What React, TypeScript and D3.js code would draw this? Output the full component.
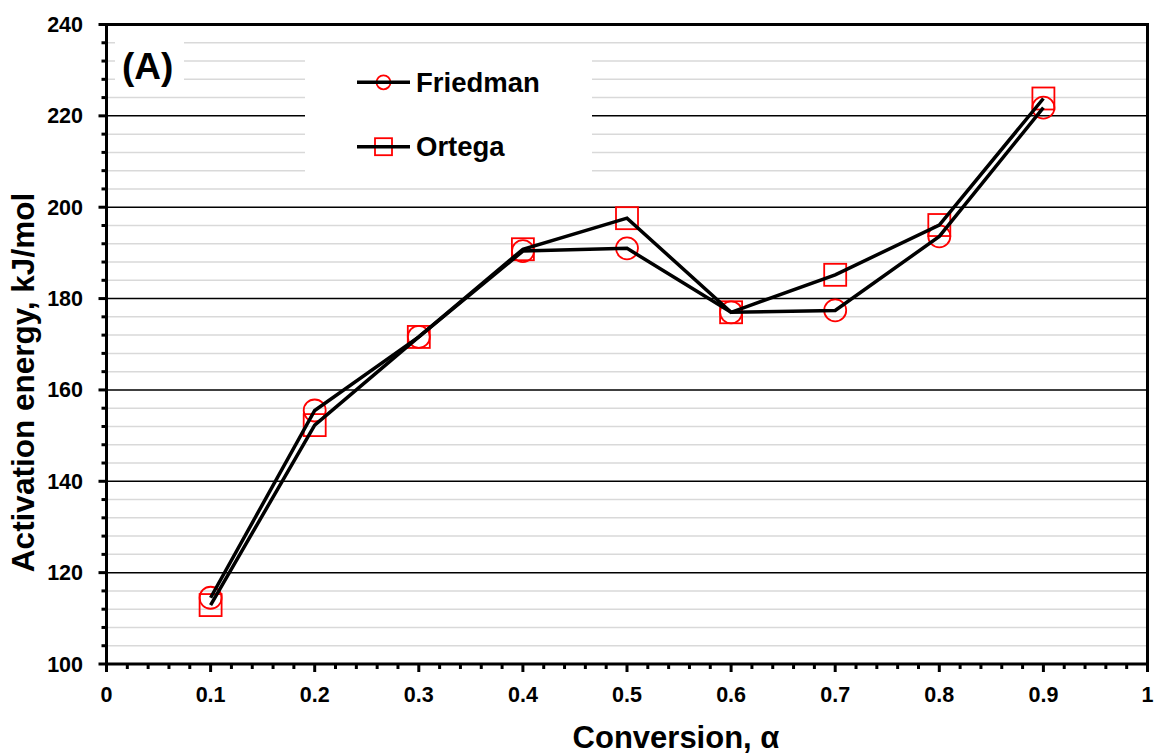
import React from "react";
import * as d3 from "d3";

const conversion = [0.1, 0.2, 0.3, 0.4, 0.5, 0.6, 0.7, 0.8, 0.9];
const friedman = [114.5, 155.5, 171.6, 190.4, 191.0, 177.0, 177.4, 193.6, 221.8];
const ortega = [112.9, 152.3, 171.6, 190.8, 197.6, 177.0, 185.2, 196.1, 223.8];
const xTicks = [0, 0.1, 0.2, 0.3, 0.4, 0.5, 0.6, 0.7, 0.8, 0.9, 1];
const yTicks = [100, 120, 140, 160, 180, 200, 220, 240];
const seriesNames = ["Friedman", "Ortega"];

const FONT = "'Liberation Sans', Arial, Helvetica, sans-serif";

export default function App() {
  const W = 1156;
  const H = 756;
  const x = d3.scaleLinear().domain([0, 1]).range([106.5, 1147.5]);
  const y = d3.scaleLinear().domain([100, 240]).range([664, 24.5]);

  const minorY = d3.range(100, 240.001, 4);
  const minorX = d3.range(0, 1.0001, 0.02);

  const line = d3
    .line<number>()
    .x((_, i) => x(conversion[i]))
    .y((d) => y(d));

  const x0 = x(0), x1 = x(1), y0 = y(100), y1 = y(240);

  return (
    <div style={{ position: "absolute", left: 0, top: 0, width: W, height: H }}>
      <svg width={W} height={H} style={{ display: "block" }} fontFamily={FONT}>
        <rect x={0} y={0} width={W} height={H} fill="#fff" />
        {/* minor gridlines */}
        {minorY.filter((v) => v % 20 !== 0).map((v) => (
          <line key={"mg" + v} x1={x0} x2={x1} y1={y(v)} y2={y(v)} stroke="#d9d9d9" strokeWidth={1.5} />
        ))}
        {/* major gridlines */}
        {yTicks.slice(1, -1).map((v) => (
          <line key={"Mg" + v} x1={x0} x2={x1} y1={y(v)} y2={y(v)} stroke="#000" strokeWidth={1.5} />
        ))}
        {/* (A) box */}
        <rect x={115} y={35} width={69} height={56} fill="#fff" />
        <text x={122} y={79} fontSize={37} fontWeight="bold" fill="#000">(A)</text>
        {/* legend box */}
        <rect x={305} y={50} width={287} height={136} fill="#fff" />
        {seriesNames.map((name, i) => {
          const ly = i === 0 ? 82.3 : 146.7;
          return (
            <g key={name}>
              {i === 0 ? (
                <circle cx={383.5} cy={ly} r={7} fill="none" stroke="#ff0000" strokeWidth={1.8} />
              ) : (
                <rect x={375} y={ly - 8.5} width={17} height={17} fill="none" stroke="#ff0000" strokeWidth={1.8} />
              )}
              <line x1={357} x2={410} y1={ly} y2={ly} stroke="#000" strokeWidth={3.5} />
              <text x={416} y={ly + 9.5} fontSize={27.5} fontWeight="bold" fill="#000">{name}</text>
            </g>
          );
        })}
        {/* markers */}
        {friedman.map((v, i) => (
          <circle key={"fc" + i} cx={x(conversion[i])} cy={y(v)} r={11} fill="none" stroke="#ff0000" strokeWidth={1.8} />
        ))}
        {ortega.map((v, i) => (
          <rect key={"or" + i} x={x(conversion[i]) - 11} y={y(v) - 11} width={22} height={22} fill="none" stroke="#ff0000" strokeWidth={1.8} />
        ))}
        {/* lines */}
        <path d={line(friedman) || ""} fill="none" stroke="#000" strokeWidth={3.5} strokeLinejoin="miter" />
        <path d={line(ortega) || ""} fill="none" stroke="#000" strokeWidth={3.5} strokeLinejoin="miter" />
        {/* frame */}
        <line x1={x0} x2={x1} y1={y1} y2={y1} stroke="#000" strokeWidth={3} />
        <line x1={x1} x2={x1} y1={y1 - 1.5} y2={y0} stroke="#000" strokeWidth={3} />
        <line x1={x0} x2={x0} y1={y1 - 1.5} y2={y0 + 1.5} stroke="#000" strokeWidth={3} />
        <line x1={x0 - 1.5} x2={x1 + 1.5} y1={y0} y2={y0} stroke="#000" strokeWidth={3} />
        {/* y ticks */}
        {minorY.map((v) => (
          <line key={"yt" + v} x1={v % 20 === 0 ? x0 - 8 : x0 - 5} x2={x0} y1={y(v)} y2={y(v)} stroke="#000" strokeWidth={3} />
        ))}
        {yTicks.map((v) => (
          <text key={"yl" + v} x={83} y={y(v) + 7.5} fontSize={21.5} fontWeight="bold" textAnchor="end" fill="#000">{v}</text>
        ))}
        {/* x ticks */}
        {minorX.map((v, i) => (
          <line key={"xt" + i} x1={x(v)} x2={x(v)} y1={y0} y2={i % 5 === 0 ? y0 + 8 : y0 + 5} stroke="#000" strokeWidth={3} />
        ))}
        {xTicks.map((v) => (
          <text key={"xl" + v} x={x(v)} y={702} fontSize={21.5} fontWeight="bold" textAnchor="middle" fill="#000">{String(v)}</text>
        ))}
        {/* axis titles */}
        <text x={676} y={748} fontSize={31} fontWeight="bold" textAnchor="middle" fill="#000">Conversion, α</text>
        <text transform="translate(34,382.5) rotate(-90)" fontSize={31.5} fontWeight="bold" textAnchor="middle" fill="#000">Activation energy, kJ/mol</text>
      </svg>
    </div>
  );
}
